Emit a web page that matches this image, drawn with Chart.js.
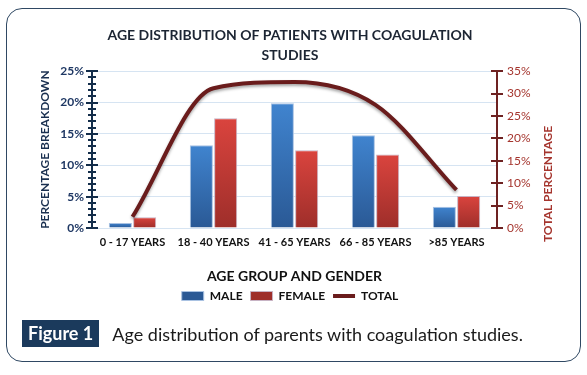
<!DOCTYPE html>
<html>
<head>
<meta charset="utf-8">
<script src="https://cdn.jsdelivr.net/npm/chart.js@4.4.0/dist/chart.umd.min.js"></script>
<style>
  body { margin: 0; background: #fff; width: 587px; height: 375px; position: relative; overflow: hidden; font-family: Lato, "Open Sans", sans-serif; }
  #frame { position: absolute; left: 6px; top: 8px; width: 573px; height: 352px; border: 1.5px solid #2f4863; border-radius: 16px; }
  #chartBox { position: absolute; left: 0; top: 0; width: 587px; height: 375px; }
  #caption { position: absolute; left: 22px; top: 320px; height: 27px; display: flex; align-items: center; }
  #caption .fig { background: #1b3a5c; color: #fff; font-weight: bold; font-size: 18px; padding: 0 6px; height: 27px; line-height: 27px; }
  #caption .txt { color: #1a1a1a; font-size: 18px; margin-left: 13px; }
</style>
</head>
<body>
<div id="frame"></div>
<div id="chartBox"><canvas id="ageChart" width="587" height="375"></canvas></div>
<div id="caption"><span class="fig">Figure 1</span><span class="txt">Age distribution of parents with coagulation studies.</span></div>
<script>
const ageGroups = ['0 - 17 YEARS', '18 - 40 YEARS', '41 - 65 YEARS', '66 - 85 YEARS', '>85 YEARS'];
const malePct = [0.8, 13.2, 19.9, 14.8, 3.4];
const femalePct = [1.7, 17.5, 12.4, 11.7, 5.1];
const totalPct = [2.5, 31.2, 32.6, 27.5, 8.5];

const leftMax = 25;
const rightMax = 35;

function barGradient(top, bottom) {
    return function (context) {
        const chart = context.chart;
        const area = chart.chartArea;
        if (!area || context.parsed == null) return bottom;
        const y = chart.scales.y.getPixelForValue(context.parsed.y);
        const g = chart.ctx.createLinearGradient(0, y, 0, area.bottom);
        g.addColorStop(0, top);
        g.addColorStop(1, bottom);
        return g;
    };
}

// cross ticks on both value axes + right axis title
const axisDecor = {
    id: 'axisDecor',
    afterDraw(chart) {
        const c = chart.ctx;
        const yl = chart.scales.y;
        const yr = chart.scales.y1;
        const left = chart.chartArea.left;
        const right = chart.chartArea.right;
        c.save();
        c.lineWidth = 2;
        c.strokeStyle = '#132d4a';
        for (let v = 0; v <= leftMax; v++) {
            const y = Math.round(yl.getPixelForValue(v));
            const len = v % 5 === 0 ? 6 : 4;
            c.beginPath();
            c.moveTo(left - len, y);
            c.lineTo(left + len, y);
            c.stroke();
        }
        c.strokeStyle = '#6e2222';
        for (let v = 0; v <= rightMax; v += 5) {
            const y = Math.round(yr.getPixelForValue(v));
            c.beginPath();
            c.moveTo(right - 6, y);
            c.lineTo(right + 6, y);
            c.stroke();
        }
        c.translate(548, 184);
        c.rotate(-Math.PI / 2);
        c.fillStyle = '#a5352e';
        c.font = 'bold 12px Lato';
        c.textAlign = 'center';
        c.textBaseline = 'middle';
        c.fillText('TOTAL PERCENTAGE', 0, 0);
        c.restore();
    },
    beforeDatasetDraw(chart, args) {
        if (args.index === 2) {
            chart.ctx.save();
            chart.ctx.shadowColor = 'rgba(0,0,0,0.35)';
            chart.ctx.shadowBlur = 3;
            chart.ctx.shadowOffsetY = 2;
        }
    },
    afterDatasetDraw(chart, args) {
        if (args.index === 2) chart.ctx.restore();
    }
};

const ctx = document.getElementById('ageChart').getContext('2d');
const ageChart = new Chart(ctx, {
    type: 'bar',
    data: {
        labels: ageGroups,
        datasets: [{
            label: 'MALE',
            data: malePct,
            backgroundColor: barGradient('#4084cf', '#2a5995'),
            borderColor: '#a9c2e2',
            borderWidth: 1,
            pointStyle: 'rect',
            categoryPercentage: 0.6,
            barPercentage: 0.95,
            yAxisID: 'y',
            order: 1
        }, {
            label: 'FEMALE',
            data: femalePct,
            backgroundColor: barGradient('#da443e', '#9e2e2a'),
            borderColor: '#c7b3c4',
            borderWidth: 1,
            pointStyle: 'rect',
            categoryPercentage: 0.6,
            barPercentage: 0.95,
            yAxisID: 'y',
            order: 1
        }, {
            type: 'line',
            label: 'TOTAL',
            data: totalPct,
            borderColor: '#6a1c1c',
            backgroundColor: '#6a1c1c',
            borderWidth: 4,
            cubicInterpolationMode: 'monotone',
            pointRadius: 0,
            pointStyle: 'line',
            yAxisID: 'y1',
            order: 0
        }]
    },
    options: {
        responsive: false,
        animation: false,
        layout: { padding: { left: 10, right: 17, top: 26, bottom: 63 } },
        scales: {
            x: {
                grid: { display: false, drawTicks: false },
                border: { display: false },
                ticks: { color: '#111', padding: 8, font: { family: 'Lato', size: 11, weight: 'bold' } },
                title: {
                    display: true,
                    text: 'AGE GROUP AND GENDER',
                    color: '#111',
                    padding: { top: 11, bottom: -3 },
                    font: { family: 'Lato', size: 14, weight: 'bold' }
                }
            },
            y: {
                position: 'left',
                min: 0,
                max: leftMax,
                afterFit(scale) { scale.width = 82; },
                ticks: {
                    stepSize: 5,
                    padding: 8,
                    color: '#1f3864',
                    font: { family: 'Lato', size: 12, weight: 'bold' },
                    callback: v => v + '%'
                },
                grid: { color: '#d6e4f2', drawTicks: false },
                border: { color: '#132d4a', width: 2 },
                title: {
                    display: true,
                    text: 'PERCENTAGE BREAKDOWN',
                    color: '#1a3050',
                    padding: { top: 28 },
                    font: { family: 'Lato', size: 12, weight: 'bold' }
                }
            },
            y1: {
                position: 'right',
                min: 0,
                max: rightMax,
                afterFit(scale) { scale.width = 73; },
                ticks: {
                    stepSize: 5,
                    padding: 10,
                    color: '#a5352e',
                    font: { family: 'Lato', size: 12 },
                    callback: v => v + '%'
                },
                grid: { display: false, drawTicks: false },
                border: { color: '#6e2222', width: 2 }
            }
        },
        plugins: {
            title: {
                display: true,
                text: ['AGE DISTRIBUTION OF PATIENTS WITH COAGULATION', 'STUDIES'],
                color: '#1c2533',
                padding: { top: 0, bottom: 6 },
                font: { family: 'Lato', size: 14, weight: 'bold', lineHeight: 1.4 }
            },
            legend: {
                position: 'bottom',
                labels: {
                    usePointStyle: true,
                    pointStyleWidth: 22,
                    boxHeight: 9,
                    padding: 8,
                    color: '#111',
                    font: { family: 'Lato', size: 12, weight: 'bold' },
                    sort: (a, b) => a.datasetIndex - b.datasetIndex
                }
            },
            tooltip: { enabled: false }
        }
    },
    plugins: [axisDecor]
});
</script>
</body>
</html>
